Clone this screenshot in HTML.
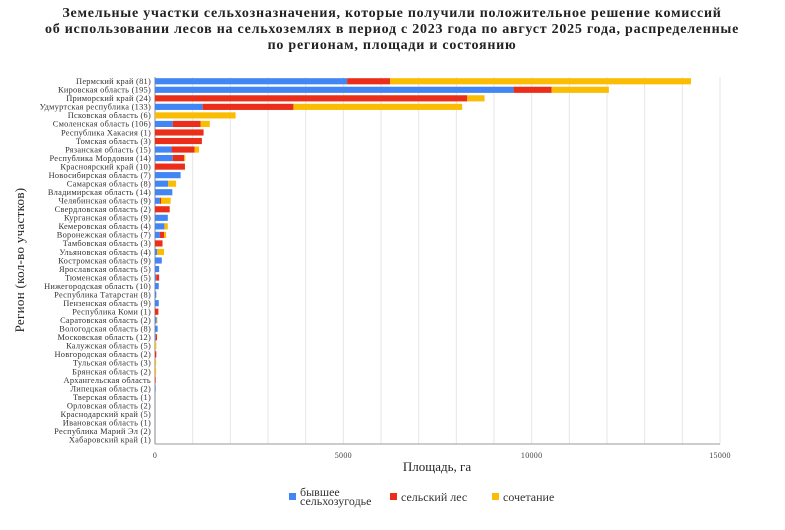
<!DOCTYPE html>
<html><head><meta charset="utf-8"><style>
body{margin:0;background:#fff;}
svg{display:block;font-family:"Liberation Serif","Noto Serif CJK SC",serif;}
</style></head><body>
<svg id="chart" width="785" height="530">
<g font-weight="bold" font-size="14" text-anchor="middle" fill="#222" letter-spacing="0.75">
<text x="392" y="17">Земельные участки сельхозназначения, которые получили положительное решение комиссий</text>
<text x="392" y="33">об использовании лесов на сельхоземлях в период с 2023 года по август 2025 года, распределенные</text>
<text x="392" y="49">по регионам, площади и состоянию</text>
</g>
<g id="grid"></g>
<g id="bars"></g>
<g id="ylabels" font-size="8.4" letter-spacing="0.25" text-anchor="end" fill="#333"></g>
<g id="xticks" font-size="8" text-anchor="middle" fill="#444" letter-spacing="0.3"></g>
<text x="437" y="471" text-anchor="middle" font-size="13" fill="#222">Площадь, га</text>
<text transform="translate(24,260) rotate(-90)" text-anchor="middle" font-size="13" fill="#222" letter-spacing="0.3">Регион (кол-во участков)</text>
<g font-size="12" fill="#333">
<g><rect x="289" y="493" width="7" height="7" fill="#4285f4"/><text x="300" y="496">бывшее</text><text x="300" y="505">сельхозугодье</text></g>
<g><rect x="390" y="493" width="7" height="7" fill="#ea2e1a"/><text x="401" y="501">сельский лес</text></g>
<g><rect x="492" y="493" width="7" height="7" fill="#fbbc04"/><text x="503" y="501">сочетание</text></g>
</g>
</svg>
<script>
const categories=["Пермский край (81)","Кировская область (195)","Приморский край (24)","Удмуртская республика (133)","Псковская область (6)","Смоленская область (106)","Республика Хакасия (1)","Томская область (3)","Рязанская область (15)","Республика Мордовия (14)","Красноярский край (10)","Новосибирская область (7)","Самарская область (8)","Владимирская область (14)","Челябинская область (9)","Свердловская область (2)","Курганская область (9)","Кемеровская область (4)","Воронежская область (7)","Тамбовская область (3)","Ульяновская область (4)","Костромская область (9)","Ярославская область (5)","Тюменская область (5)","Нижегородская область (10)","Республика Татарстан (8)","Пензенская область (9)","Республика Коми (1)","Саратовская область (2)","Вологодская область (8)","Московская область (12)","Калужская область (5)","Новгородская область (2)","Тульская область (3)","Брянская область (2)","Архангельская область","Липецкая область (2)","Тверская область (1)","Орловская область (2)","Краснодарский край (5)","Ивановская область (1)","Республика Марий Эл (2)","Хабаровский край (1)"];
const farmland=[5100,9520,0,1265,0,470,0,0,440,470,0,680,350,460,130,0,340,250,130,0,60,180,110,35,100,35,100,0,45,70,20,0,0,0,0,0,18,4,4,4,3,3,2];
const forest=[1140,1010,8290,2410,0,740,1290,1245,610,305,795,0,0,0,30,390,0,0,115,200,0,0,0,75,0,0,0,90,0,0,35,0,35,0,0,18,0,0,0,0,0,0,0];
const combo=[7990,1520,460,4480,2140,245,0,0,120,30,0,0,210,0,255,0,0,90,50,0,180,0,0,0,0,0,0,0,18,0,0,35,0,30,30,0,0,0,0,0,0,0,0];
const xTicks=[0,5000,10000,15000];
const x0=155,x1=720,xMax=15000,yTop=77,yBot=444;
const x=v=>x0+v/xMax*(x1-x0);
const step=(yBot-yTop)/categories.length;
const y=i=>yTop+step*i+step/2;
const NS="http://www.w3.org/2000/svg";
function mk(tag,attrs,parent){const e=document.createElementNS(NS,tag);for(const k in attrs)e.setAttribute(k,attrs[k]);parent.appendChild(e);return e;}
const grid=document.getElementById('grid');
for(let v=0;v<=xMax;v+=1000){const l=mk('line',{x1:x(v),x2:x(v),y1:yTop,y2:yBot,stroke:v===0?'#888':'#e6e6e6','stroke-width':1},grid);

}
const bl=mk('line',{x1:x0,x2:x1,y1:yBot,y2:yBot,stroke:'#999','stroke-width':1},grid);


const xt=document.getElementById('xticks');
xTicks.forEach(v=>{const t=mk('text',{x:x(v),y:458},xt);t.textContent=v;

});
const bars=document.getElementById('bars'),yl=document.getElementById('ylabels');
const series=[[farmland,'#4285f4','farmland'],[forest,'#ea2e1a','forest'],[combo,'#fbbc04','combination']];
const bh=step*0.72;
categories.forEach((c,i)=>{
  const t=mk('text',{x:x0-4,y:y(i)+2.8},yl);t.textContent=c;
  
  
  let acc=0;
  series.forEach(([arr,col,nm])=>{const v=arr[i];if(v>0){
    const r=mk('rect',{x:x(acc),y:y(i)-bh/2,width:x(acc+v)-x(acc),height:bh,fill:col},bars);
    
    
    acc+=v;}});
});
</script>
</body></html>
